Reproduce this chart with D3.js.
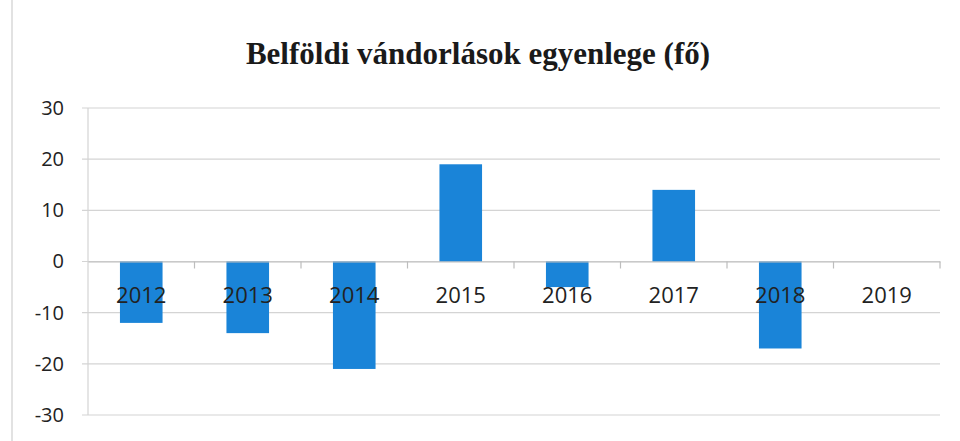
<!DOCTYPE html>
<html><head><meta charset="utf-8">
<script src="https://cdn.jsdelivr.net/npm/d3@7/dist/d3.min.js"></script>
<style>body{margin:0;background:#fff}svg{display:block}</style>
</head><body><svg id="c" width="960" height="441"></svg>
<script>
const categories = ["2012","2013","2014","2015","2016","2017","2018","2019"];
const values = [-12, -14, -21, 19, -5, 14, -17, 0];
const yTicks = [30, 20, 10, 0, -10, -20, -30];
const title = "Belföldi vándorlások egyenlege (fő)";

const svg = d3.select("#c");
const m = {left: 88, right: 940, top: 108, bottom: 415};
const x = d3.scaleBand().domain(categories).range([m.left, m.right]).paddingInner(0.6).paddingOuter(0.3);
const xb = d3.scaleBand().domain(categories).range([m.left, m.right]);
const y = d3.scaleLinear().domain([-30, 30]).range([m.bottom, m.top]);

svg.append("line").attr("x1",12).attr("x2",12).attr("y1",0).attr("y2",441).attr("stroke","#d9d9d9").attr("stroke-width",1.5);

svg.append("text").attr("x",478).attr("y",64).attr("text-anchor","middle")
  .attr("font-family","Liberation Serif, serif").attr("font-weight","bold").attr("font-size",31).attr("fill","#1a1a1a").text(title);

svg.append("g").selectAll("line").data(yTicks).join("line")
  .attr("x1",m.left-6).attr("x2",m.right).attr("y1",d=>y(d)).attr("y2",d=>y(d))
  .attr("stroke","#d4d4d4").attr("stroke-width",1.2);
svg.append("line").attr("x1",m.left).attr("x2",m.left).attr("y1",m.top).attr("y2",m.bottom).attr("stroke","#d4d4d4").attr("stroke-width",1.2);

const ya = d3.axisLeft(y).tickValues(yTicks).tickSize(0).tickPadding(24).tickFormat(d=>String(d));
const yg = svg.append("g").attr("transform",`translate(${m.left},0)`).call(ya);
yg.select(".domain").remove();
yg.selectAll("text").attr("font-family","Open Sans, sans-serif").attr("font-size",20).attr("fill","#222");

svg.append("g").selectAll("rect").data(values).join("rect")
  .attr("x",(d,i)=>x(categories[i])).attr("width",x.bandwidth())
  .attr("y",d=>y(Math.max(0,d))).attr("height",d=>Math.abs(y(d)-y(0)))
  .attr("fill","#1a84d8");

const xa = d3.axisBottom(xb).tickSize(0).tickPadding(26);
const xg = svg.append("g").attr("transform",`translate(0,${y(0)})`).call(xa);
xg.select(".domain").attr("stroke","#bdbdbd").attr("stroke-width",1.2);
xg.selectAll("text").attr("font-family","Open Sans, sans-serif").attr("font-size",22).attr("fill","#222");
svg.append("g").selectAll("line").data(categories.slice(1).concat(["end"])).join("line")
  .attr("x1",(d,i)=>m.left+xb.step()*(i+1)).attr("x2",(d,i)=>m.left+xb.step()*(i+1))
  .attr("y1",y(0)).attr("y2",y(0)+7).attr("stroke","#bdbdbd").attr("stroke-width",1.2);
</script></body></html>
